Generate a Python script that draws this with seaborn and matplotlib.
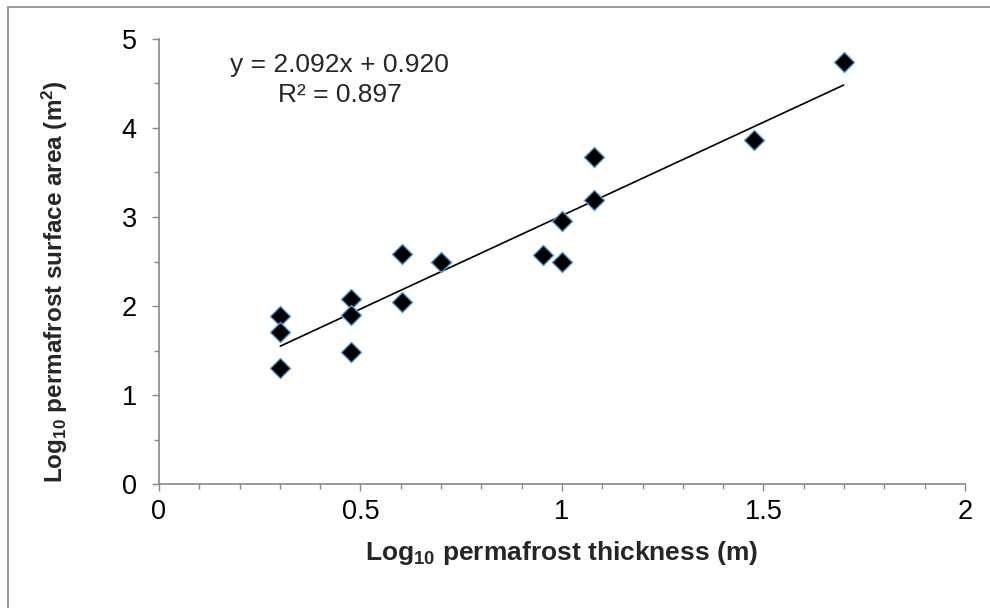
import numpy as np
import pandas as pd
import matplotlib
matplotlib.use("Agg")
import matplotlib.pyplot as plt
import seaborn as sns
from matplotlib.patches import Rectangle
from matplotlib.ticker import MultipleLocator, FuncFormatter

sns.set_theme(style="white")
plt.rcParams["font.family"] = ["Liberation Sans", "DejaVu Sans"]
plt.rcParams["mathtext.fontset"] = "custom"
plt.rcParams["mathtext.rm"] = "Liberation Sans:bold"
plt.rcParams["mathtext.bf"] = "Liberation Sans:bold"
plt.rcParams["mathtext.default"] = "bf"

# log10 thickness (m) and log10 surface area (m2)
log_thickness = [0.301, 0.301, 0.301, 0.477, 0.477, 0.477, 0.602, 0.602,
                 0.699, 0.954, 1.000, 1.000, 1.079, 1.079, 1.477, 1.699]
log_area = [1.89, 1.71, 1.30, 2.08, 1.90, 1.48, 2.58, 2.05,
            2.49, 2.57, 2.96, 2.49, 3.19, 3.67, 3.86, 4.74]
eq_text = "y = 2.092x + 0.920\nR² = 0.897"

df = pd.DataFrame({"x": log_thickness, "y": log_area})

fig = plt.figure(figsize=(9.9, 6.08), dpi=100)
ax = fig.add_axes([0.1606, 0.2039, 0.8141, 0.732])

sns.regplot(data=df, x="x", y="y", ci=None, scatter=False, truncate=True,
            line_kws={"color": "black", "linewidth": 1.2}, ax=ax)
sns.scatterplot(data=df, x="x", y="y", marker="D", s=105, color="black",
                edgecolor="#5b9bd5", linewidth=1.0, ax=ax, zorder=3)

ax.set_xlim(0, 2)
ax.set_ylim(0, 5)
ax.xaxis.set_major_locator(MultipleLocator(0.5))
ax.xaxis.set_minor_locator(MultipleLocator(0.1))
ax.yaxis.set_major_locator(MultipleLocator(1))
ax.yaxis.set_minor_locator(MultipleLocator(0.5))
ax.xaxis.set_major_formatter(FuncFormatter(lambda v, p: f"{v:g}"))
ax.yaxis.set_major_formatter(FuncFormatter(lambda v, p: f"{v:g}"))
ax.tick_params(axis="both", which="major", direction="out", length=5, width=1,
               color="#888888", labelsize=19.5, labelcolor="black")
ax.tick_params(axis="both", which="minor", direction="out", length=3.5, width=1,
               color="#888888")
ax.tick_params(axis="x", which="both", bottom=True, pad=6)
ax.tick_params(axis="y", which="both", left=True, pad=11)

for side in ["top", "right"]:
    ax.spines[side].set_visible(False)
for side in ["left", "bottom"]:
    ax.spines[side].set_color("#888888")
    ax.spines[side].set_linewidth(1.2)

ax.set_xlabel(r"Log$_{10}$ permafrost thickness (m)", fontsize=19,
              fontweight="bold", labelpad=10)
ax.set_ylabel(r"Log$_{10}$ permafrost surface area (m$^{2}$)", fontsize=17.5,
              fontweight="bold")
ax.yaxis.set_label_coords(-0.110, 0.455)

ax.text(0.449, 4.54, eq_text, ha="center", va="center", fontsize=19,
        linespacing=1.3)

fig.patches.append(Rectangle((0.008, -0.1), 1.2, 1.0885, transform=fig.transFigure,
                             fill=False, edgecolor="#888888", linewidth=1.2))

fig.savefig("out.png", dpi=100)
